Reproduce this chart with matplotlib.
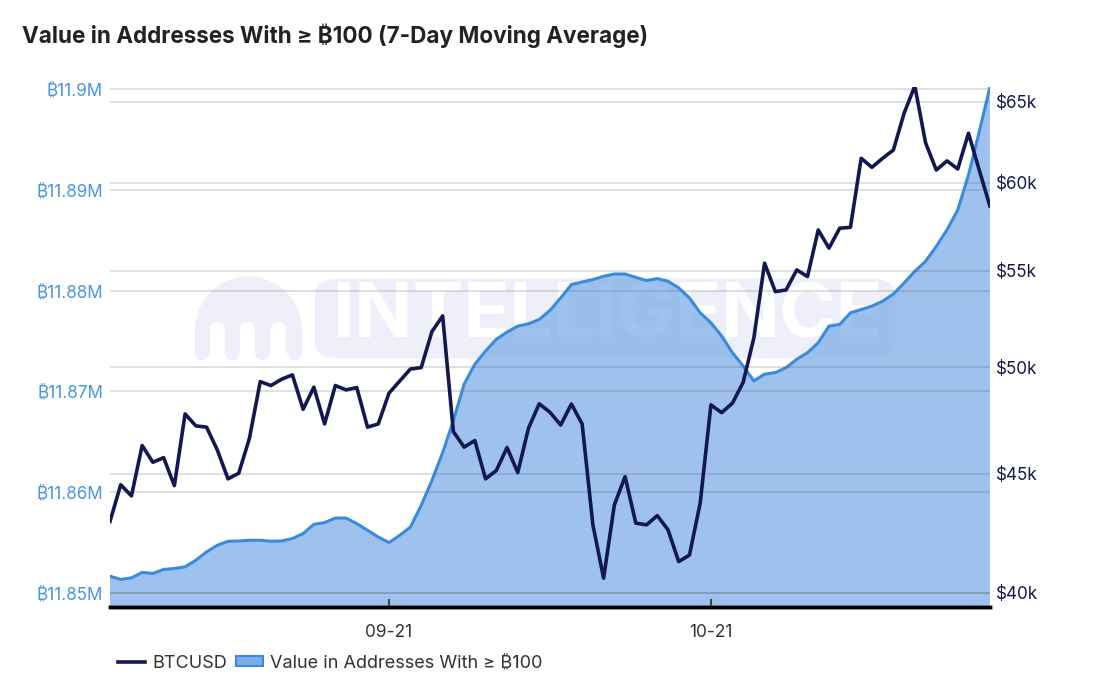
import matplotlib
matplotlib.use("Agg")
import matplotlib.pyplot as plt
import matplotlib.dates as mdates
from matplotlib.lines import Line2D
from matplotlib.patches import Patch, FancyBboxPatch, Wedge, Rectangle, Circle
from matplotlib.ticker import FixedLocator, NullLocator, FuncFormatter
import pandas as pd

plt.rcParams["font.family"] = ["Inter", "DejaVu Sans", "Noto Sans"]

dates = pd.date_range("2021-08-26", periods=83, freq="D")

# BTCUSD daily price (USD)
btc_usd = [
    42920, 44510, 44020, 46270, 45510, 45720, 44470, 47740, 47180, 47120,
    46070, 44770, 45020, 46610, 49290, 49100, 49410, 49620, 47960, 49020,
    47270, 49100, 48890, 49000, 47120, 47270, 48730, 49320, 49910, 49980,
    51790, 52600, 46910, 46200, 46500, 44770, 45140, 46180, 45050, 47070,
    48220, 47820, 47220, 48210, 47270, 42780, 40580, 43630, 44870, 42850,
    42780, 43170, 42570, 41250, 41520, 43710, 48170, 47800, 48250, 49250,
    51470, 55420, 53880, 53970, 55050, 54690, 57270, 56250, 57370, 57420,
    61480, 60930, 61480, 61980, 64280, 66040, 62430, 60770, 61320, 60830,
    63020, 60770, 58640,
]

# BTC held in addresses with >= 100 BTC, 7-day MA (millions)
value_100 = [
    11.85168, 11.85135, 11.85151, 11.85205, 11.85195, 11.85234, 11.85244, 11.85260, 11.85326, 11.85408,
    11.85474, 11.85514, 11.85517, 11.85524, 11.85524, 11.85514, 11.85517, 11.85541, 11.85590, 11.85682,
    11.85699, 11.85744, 11.85744, 11.85689, 11.85623, 11.85556, 11.85501, 11.85573, 11.85655, 11.85870,
    11.86117, 11.86393, 11.86710, 11.87072, 11.87270, 11.87401, 11.87517, 11.87589, 11.87648, 11.87671,
    11.87714, 11.87803, 11.87928, 11.88060, 11.88086, 11.88110, 11.88142, 11.88165, 11.88165, 11.88132,
    11.88100, 11.88120, 11.88093, 11.88027, 11.87928, 11.87780, 11.87681, 11.87550, 11.87385, 11.87253,
    11.87105, 11.87171, 11.87187, 11.87236, 11.87319, 11.87385, 11.87483, 11.87648, 11.87665, 11.87780,
    11.87813, 11.87846, 11.87895, 11.87967, 11.88076, 11.88192, 11.88291, 11.88439, 11.88604, 11.88801,
    11.89147, 11.89575, 11.90020,
]

left_ticks = [11.85, 11.86, 11.87, 11.88, 11.89, 11.9]
left_labels = ["₿11.85M", "₿11.86M", "₿11.87M", "₿11.88M", "₿11.89M", "₿11.9M"]
right_ticks = [40000, 45000, 50000, 55000, 60000, 65000]
right_labels = ["$40k", "$45k", "$50k", "$55k", "$60k", "$65k"]
date_ticks = pd.to_datetime(["2021-09-21", "2021-10-21"])

NAVY = "#141852"
BLUE = "#3a8ae0"
FILL = "#7eaee8"
LABEL_BLUE = "#4a95e6"
WM = "#efeffa"

fig = plt.figure(figsize=(11.03, 6.83), dpi=100)
ax = fig.add_axes([0.0997, 0.1113, 0.7978, 0.7613])


def px(x, y):
    # figure pixel (from top-left) -> inches for dpi_scale_trans
    return x / 100.0, (683 - y) / 100.0


def add_watermark(ax):
    tr = fig.dpi_scale_trans
    ax.add_patch(FancyBboxPatch((0.245, 0.49), 0.635, 0.13,
                                boxstyle="round,pad=0.012,rounding_size=0.03",
                                transform=ax.transAxes, facecolor=WM, edgecolor="none", zorder=0))
    ax.text(0.565, 0.556, "INTELLIGENCE", transform=ax.transAxes, ha="center", va="center",
            fontsize=55, fontweight="bold", color="white", zorder=0.5)
    # dome logo
    ax.add_patch(Wedge(px(248.5, 330), 0.535, 0, 180, transform=tr, facecolor=WM,
                       edgecolor="none", zorder=0, clip_on=False))
    x0, y0 = px(195, 353)
    ax.add_patch(Rectangle((x0, y0), 1.07, 0.23, transform=tr, facecolor=WM,
                           edgecolor="none", zorder=0, clip_on=False))
    for cx in (202.2, 232.3, 262.3, 294.8):
        ax.add_patch(Circle(px(cx, 353), 0.072, transform=tr, facecolor=WM,
                            edgecolor="none", zorder=0, clip_on=False))
    for gx in (217.3, 247.3, 278.3):
        gx0, gy0 = px(gx - 7.5, 362)
        ax.add_patch(FancyBboxPatch((gx0, gy0), 0.15, 0.40,
                                    boxstyle="round,pad=0,rounding_size=0.075",
                                    transform=tr, facecolor="white", edgecolor="none",
                                    zorder=0.2, clip_on=False))


add_watermark(ax)

ax.fill_between(dates, value_100, 11.8, color=FILL, alpha=0.75, linewidth=0, zorder=1)
ax.plot(dates, value_100, color=BLUE, linewidth=2.2, zorder=3)
ax.set_ylim(11.84862, 11.9002)
ax.set_xlim(dates[0], dates[-1])
ax.yaxis.set_major_locator(FixedLocator(left_ticks))
ax.set_yticklabels(left_labels)
ax.tick_params(axis="y", length=0, pad=5, labelsize=12.3, labelcolor=LABEL_BLUE)
ax.set_axisbelow(False)
ax.grid(axis="y", color="#555555", alpha=0.22, linewidth=1.2)

ax.xaxis.set_major_locator(FixedLocator(mdates.date2num(date_ticks)))
ax.xaxis.set_major_formatter(mdates.DateFormatter("%m-%d"))
ax.tick_params(axis="x", direction="in", length=6, width=1.5, color="#444444",
               labelsize=12.5, labelcolor="#333333", pad=12)

ax2 = ax.twinx()
ax2.plot(dates, btc_usd, color=NAVY, linewidth=2.6, zorder=4)
ax2.set_yscale("log")
ax2.set_ylim(39440, 65970)
ax2.yaxis.set_major_locator(FixedLocator(right_ticks))
ax2.yaxis.set_minor_locator(NullLocator())
ax2.yaxis.set_major_formatter(FuncFormatter(
    lambda v, p: right_labels[right_ticks.index(int(round(v)))] if int(round(v)) in right_ticks else ""))
ax2.tick_params(axis="y", length=0, pad=4, labelsize=12.3, labelcolor=NAVY)
ax2.grid(axis="y", color="#555555", alpha=0.22, linewidth=1.2)

for a in (ax, ax2):
    for side in ("top", "left", "right"):
        a.spines[side].set_visible(False)
    a.spines["bottom"].set_color("black")
    a.spines["bottom"].set_linewidth(2.5)

fig.text(0.02, 0.948, "Value in Addresses With ≥ ₿100 (7-Day Moving Average)",
         fontsize=16.2, fontweight="bold", color="#222222", ha="left", va="center")

handles = [
    Line2D([], [], color=NAVY, linewidth=2.6),
    Patch(facecolor=FILL, edgecolor=BLUE, linewidth=1.5),
]
fig.legend(handles, ["BTCUSD", "Value in Addresses With ≥ ₿100"], loc="center left",
           bbox_to_anchor=(0.092, 0.029), ncol=2, frameon=False, fontsize=13,
           handlelength=1.5, handleheight=0.5, handletextpad=0.4, columnspacing=0.5,
           labelcolor="#333333")

fig.savefig("out.png", dpi=100)
